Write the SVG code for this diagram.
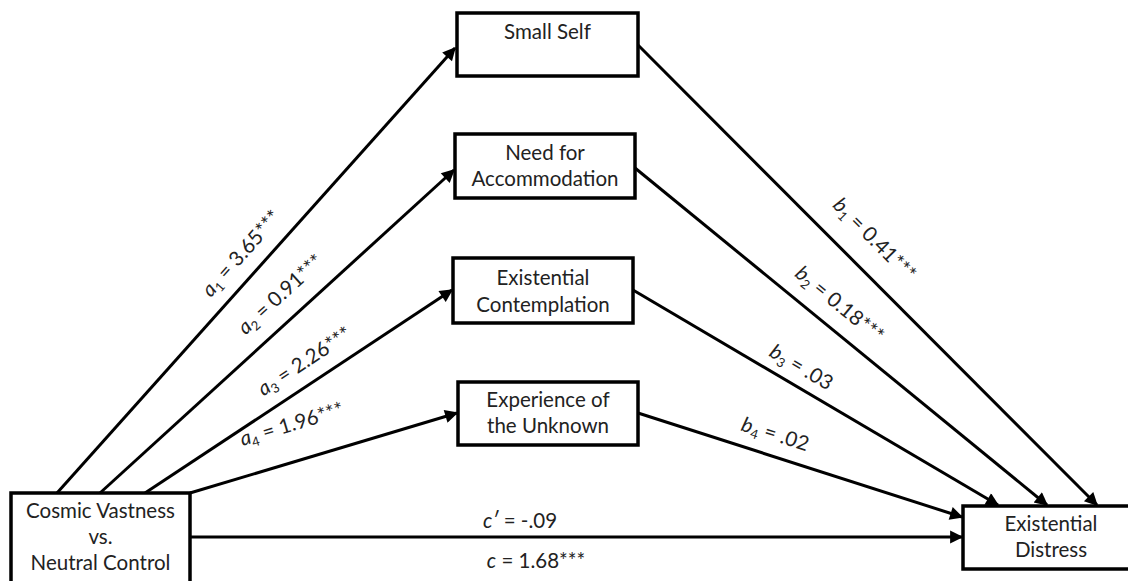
<svg xmlns="http://www.w3.org/2000/svg" width="1128" height="581" viewBox="0 0 1128 581">
<style>
.box{fill:#fff;stroke:#000;stroke-width:3.5}
.t{font-family:Lato,"Open Sans","Liberation Sans",sans-serif;font-size:20.5px;fill:#222;text-anchor:middle}
.l{font-family:Lato,"Open Sans","Liberation Sans",sans-serif;font-size:20.5px;fill:#222;text-anchor:middle}
.i{font-style:italic}
.s{font-size:13px}
.c{stroke:#000;stroke-width:3;fill:none;marker-end:url(#ah)}
</style>
<defs>
<marker id="ah" viewBox="0 0 10 10" refX="9" refY="5" markerWidth="5" markerHeight="4.4" orient="auto" markerUnits="strokeWidth">
<path d="M0,0 L10,5 L0,10 Z" fill="#000"/>
</marker>
</defs>
<rect width="1128" height="581" fill="#fff"/>
<g id="connectors">
<line class="c" x1="57" y1="493" x2="455" y2="48"/>
<line class="c" x1="100" y1="493" x2="454" y2="170"/>
<line class="c" x1="145" y1="493" x2="452" y2="290"/>
<line class="c" x1="190" y1="493" x2="457" y2="413"/>
<line class="c" x1="638" y1="45" x2="1097" y2="505"/>
<line class="c" x1="635" y1="168" x2="1047" y2="505"/>
<line class="c" x1="633" y1="290" x2="998" y2="505"/>
<line class="c" x1="638" y1="413" x2="962" y2="517"/>
<line class="c" x1="190" y1="537" x2="962" y2="537"/>
</g>
<g id="labels">
<text class="l" transform="translate(242,254) rotate(-48.2)" y="6"><tspan class="i">a</tspan><tspan class="s" dy="4">1</tspan><tspan dy="-4"> = 3.65***</tspan></text>
<text class="l" transform="translate(281,295) rotate(-42.4)" y="6"><tspan class="i">a</tspan><tspan class="s" dy="4">2</tspan><tspan dy="-4"> = 0.91***</tspan></text>
<text class="l" transform="translate(305,362) rotate(-33.4)" y="6"><tspan class="i">a</tspan><tspan class="s" dy="4">3</tspan><tspan dy="-4"> = 2.26***</tspan></text>
<text class="l" transform="translate(292,425) rotate(-16.6)" y="6"><tspan class="i">a</tspan><tspan class="s" dy="4">4</tspan><tspan dy="-4"> = 1.96***</tspan></text>
<text class="l" transform="translate(874,240) rotate(45.1)" y="6"><tspan class="i">b</tspan><tspan class="s" dy="4">1</tspan><tspan dy="-4"> = 0.41***</tspan></text>
<text class="l" transform="translate(839,305) rotate(39.4)" y="6"><tspan class="i">b</tspan><tspan class="s" dy="4">2</tspan><tspan dy="-4"> = 0.18***</tspan></text>
<text class="l" transform="translate(801,368) rotate(30.6)" y="6"><tspan class="i">b</tspan><tspan class="s" dy="4">3</tspan><tspan dy="-4"> = .03</tspan></text>
<text class="l" transform="translate(775,435) rotate(17.7)" y="6"><tspan class="i">b</tspan><tspan class="s" dy="4">4</tspan><tspan dy="-4"> = .02</tspan></text>
<text class="l" x="520" y="528"><tspan class="i">c′</tspan> = -.09</text>
<text class="l" x="536" y="568"><tspan class="i">c</tspan> = 1.68***</text>
</g>
<g id="small-self">
<rect class="box" x="457" y="13" width="181" height="63"/>
<text class="t" x="547.5" y="39">Small Self</text>
</g>
<g id="need-for-accommodation">
<rect class="box" x="455" y="134" width="180" height="64"/>
<text class="t" x="545" y="160">Need for</text>
<text class="t" x="545" y="186">Accommodation</text>
</g>
<g id="existential-contemplation">
<rect class="box" x="453" y="258" width="180" height="65"/>
<text class="t" x="543" y="285">Existential</text>
<text class="t" x="543" y="312">Contemplation</text>
</g>
<g id="experience-of-the-unknown">
<rect class="box" x="458" y="382" width="180" height="63"/>
<text class="t" x="548" y="407">Experience of</text>
<text class="t" x="548" y="433">the Unknown</text>
</g>
<g id="cosmic-vastness">
<rect class="box" x="11" y="493" width="179" height="110"/>
<text class="t" x="100.5" y="518">Cosmic Vastness</text>
<text class="t" x="100.5" y="544">vs.</text>
<text class="t" x="100.5" y="570">Neutral Control</text>
</g>
<g id="existential-distress">
<rect class="box" x="963" y="506" width="176" height="63"/>
<text class="t" x="1051" y="531">Existential</text>
<text class="t" x="1051" y="557">Distress</text>
</g>
</svg>
